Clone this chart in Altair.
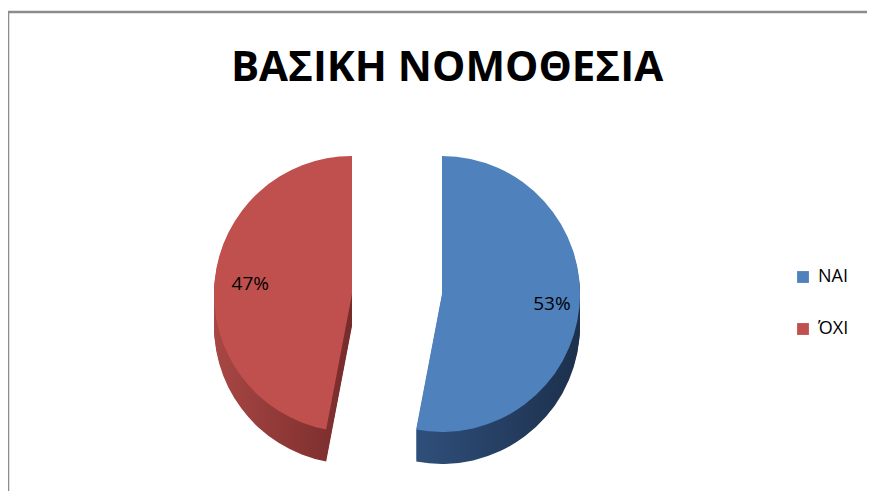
import altair as alt
import pandas as pd

# ---- data ----
categories = ["NAI", "ΌΧΙ"]
values = [53, 47]
labels = ["53%", "47%"]
title_text = "ΒΑΣΙΚΗ ΝΟΜΟΘΕΣΙΑ"

# ---- styling ----
top_colors = ["#4f81bd", "#c0504d"]
side_stops = {
    "NAI": ["#2f4f7a", "#1d304d"],
    "ΌΧΙ": ["#a84744", "#772b2b"],
}
explode = {"NAI": 42, "ΌΧΙ": -48}
label_r = {"NAI": 0.8, "ΌΧΙ": 0.74}

W, H = 859, 479
R = 138
CX, CY = 392, 282
DEPTH = 32

df = pd.DataFrame({"category": categories, "value": values,
                   "label": labels, "order": list(range(len(categories)))})
total = sum(values)

base = alt.Chart(df).transform_stack(
    stack="value", groupby=[], as_=["v0", "v1"],
    sort=[alt.SortField("order", order="ascending")]
).transform_calculate(mid="(datum.v0 + datum.v1) / 2")

theta_scale = alt.Scale(domain=[0, total])
color_scale = alt.Scale(domain=categories, range=top_colors)

layers = []

# frame (left and top edges; right/bottom run off the page in the reference)
frame = alt.Chart(pd.DataFrame({"f": [0]}))
layers.append(frame.mark_rule(color="#8c8c8c", strokeWidth=2.5).encode(
    x=alt.value(0), y=alt.value(0), y2=alt.value(H + 10)))
layers.append(frame.mark_rule(color="#8c8c8c", strokeWidth=2.5).encode(
    x=alt.value(0), x2=alt.value(W + 10), y=alt.value(0)))

# sides (extruded depth)
for cat in categories:
    c0, c1 = side_stops[cat]
    grad = alt.LinearGradient(
        gradient="linear",
        stops=[alt.GradientStop(color=c0, offset=0), alt.GradientStop(color=c1, offset=1)],
        x1=0, x2=1, y1=0, y2=0,
    )
    for k in range(DEPTH, 0, -2):
        layers.append(
            base.transform_filter(alt.datum.category == cat).mark_arc(
                radius=R, color=grad
            ).encode(
                theta=alt.Theta("v0:Q", scale=theta_scale),
                theta2="v1:Q",
                x=alt.value(CX + explode[cat]),
                y=alt.value(CY + k),
            )
        )

# top faces
for cat in categories:
    layers.append(
        base.transform_filter(alt.datum.category == cat).mark_arc(radius=R).encode(
            theta=alt.Theta("v0:Q", scale=theta_scale),
            theta2="v1:Q",
            color=alt.Color(
                "category:N", scale=color_scale, sort=categories,
                legend=alt.Legend(
                    title=None, orient="none", legendX=786, legendY=256,
                    symbolType="square", symbolSize=140, symbolStrokeWidth=0,
                    labelFontSize=18, labelFont="Open Sans", labelColor="#000000",
                    rowPadding=34, labelOffset=6,
                ),
            ),
            x=alt.value(CX + explode[cat]),
            y=alt.value(CY),
        )
    )

# percentage labels
for cat in categories:
    layers.append(
        base.transform_filter(alt.datum.category == cat).mark_text(
            fontSize=19, font="Open Sans", color="#000000"
        ).encode(
            theta=alt.Theta("mid:Q", scale=theta_scale),
            radius=alt.value(R * label_r[cat]),
            text="label:N",
            x=alt.value(CX + explode[cat]),
            y=alt.value(CY),
        )
    )

# title
title = alt.Chart(pd.DataFrame({"t": [title_text]})).mark_text(
    fontSize=42, fontWeight="bold", font="Open Sans",
    color="#000000", baseline="middle", align="center",
).encode(text="t:N", x=alt.value(439), y=alt.value(56))
layers.append(title)

chart = alt.layer(*layers).properties(
    width=W, height=H,
    padding={"left": 0, "top": 4, "right": 0, "bottom": 0},
    autosize="none",
    background="#ffffff",
).configure_view(stroke=None)

chart.save("out.html", embed_options={"renderer": "svg", "actions": False})
